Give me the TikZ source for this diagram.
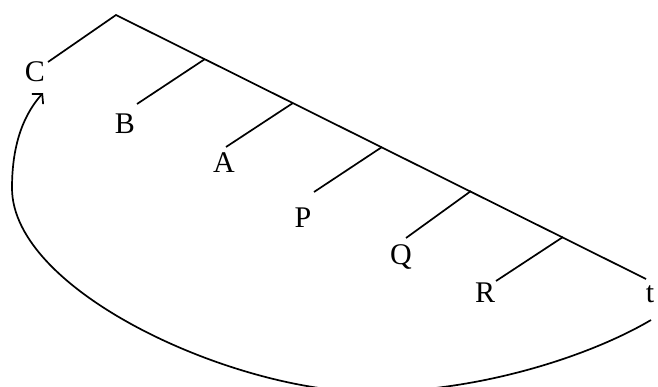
\documentclass[tikz,border=0pt]{standalone}
\usepackage{fontspec}
\setmainfont{Liberation Serif}
\usetikzlibrary{arrows.meta}
\begin{document}
\begin{tikzpicture}[x=1pt,y=-1pt,
  edge/.style={line width=1.7pt},
  lbl/.style={anchor=base,inner sep=0pt,font=\fontsize{30}{33}\selectfont}]
\useasboundingbox (0,0) rectangle (658,387);
% junctions
\coordinate (T) at (116,15);
\coordinate (Cend) at (48,62);
\coordinate (tend) at (646,279);
\coordinate (J1) at (205,59);
\coordinate (J2) at (293,103);
\coordinate (J3) at (382,147);
\coordinate (J4) at (471,191);
\coordinate (J5) at (563,237);
\coordinate (Bend) at (137,104);
\coordinate (Aend) at (226,147);
\coordinate (Pend) at (314,192);
\coordinate (Qend) at (406,238);
\coordinate (Rend) at (496,281);
% labels
\node[lbl] (C) at (35,82) {C};
\node[lbl] (B) at (125,134) {B};
\node[lbl] (A) at (224,173) {A};
\node[lbl] (P) at (303,228) {P};
\node[lbl] (Q) at (401,265) {Q};
\node[lbl] (R) at (485,302) {R};
\node[lbl] (t) at (650,302) {t};
% tree
\draw[edge] (Cend) -- (T) -- (tend);
\draw[edge] (J1) -- (Bend);
\draw[edge] (J2) -- (Aend);
\draw[edge] (J3) -- (Pend);
\draw[edge] (J4) -- (Qend);
\draw[edge] (J5) -- (Rend);
% curved arrow from t back to C
\coordinate (S) at (651,320);
\coordinate (E) at (43,93);
\draw[edge,-{Straight Barb[length=7pt,width=15pt,line width=1.7pt]}]
  (S) .. controls (590,356) and (480,392) .. (370,392)
      .. controls (235,392) and (12,292) .. (12,188)
      .. controls (12,140) and (26,112) .. (E);
\end{tikzpicture}
\end{document}
